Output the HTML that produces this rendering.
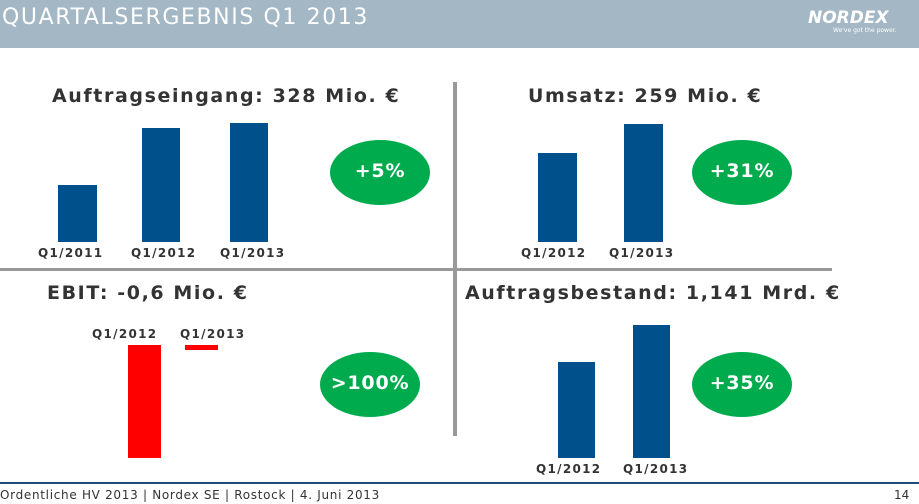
<!DOCTYPE html><html><head><meta charset="utf-8"><style>
body{margin:0;width:919px;height:504px;position:relative;overflow:hidden;background:#fff;font-family:"DejaVu Sans","Liberation Sans",sans-serif}
.a{position:absolute}
.b{position:absolute;background:#00508c}
.r{position:absolute;background:#f00}
.t{position:absolute;font-weight:bold;font-size:19px;letter-spacing:1.6px;color:#333;white-space:nowrap}
.l{position:absolute;font-weight:bold;font-size:12px;letter-spacing:1.3px;color:#333;white-space:nowrap}
.e{position:absolute;width:100px;height:65px;border-radius:50%;background:#00ab4e;color:#fff;font-weight:bold;font-size:19px;letter-spacing:0.8px;text-align:center;line-height:63px}
</style></head><body>
<div class="a" style="left:0;top:0;width:919px;height:48px;background:#a3b7c5"></div>
<div class="a" style="left:2px;top:5px;font-size:22px;letter-spacing:1.6px;color:#fff;white-space:nowrap">QUARTALSERGEBNIS Q1 2013</div>
<div class="a" style="left:808px;top:8px;font-style:italic;font-weight:bold;font-size:17px;color:#fff">NORDEX</div>
<div class="a" style="left:833px;top:27px;font-size:6px;color:#fff">We've got the power.</div>
<div class="t" style="left:52px;top:85px">Auftragseingang: 328 Mio. €</div>
<div class="t" style="left:528px;top:85px">Umsatz: 259 Mio. €</div>
<div class="t" style="left:47px;top:282px">EBIT: -0,6 Mio. €</div>
<div class="t" style="left:465px;top:282px">Auftragsbestand: 1,141 Mrd. €</div>
<div class="a" style="left:453px;top:82px;width:4px;height:354px;background:#999"></div>
<div class="a" style="left:0;top:268px;width:832px;height:3px;background:#999"></div>
<div class="b" style="left:58px;top:185px;width:39px;height:57px"></div>
<div class="b" style="left:142px;top:128px;width:38px;height:114px"></div>
<div class="b" style="left:230px;top:123px;width:38px;height:119px"></div>
<div class="l" style="left:38px;top:246px">Q1/2011</div>
<div class="l" style="left:131px;top:246px">Q1/2012</div>
<div class="l" style="left:220px;top:246px">Q1/2013</div>
<div class="b" style="left:538px;top:153px;width:39px;height:89px"></div>
<div class="b" style="left:624px;top:124px;width:39px;height:118px"></div>
<div class="l" style="left:521px;top:246px">Q1/2012</div>
<div class="l" style="left:609px;top:246px">Q1/2013</div>
<div class="l" style="left:92px;top:327px">Q1/2012</div>
<div class="l" style="left:180px;top:327px">Q1/2013</div>
<div class="r" style="left:128px;top:345px;width:33px;height:113px"></div>
<div class="r" style="left:185px;top:345px;width:33px;height:5px"></div>
<div class="b" style="left:558px;top:362px;width:37px;height:96px"></div>
<div class="b" style="left:633px;top:325px;width:37px;height:133px"></div>
<div class="l" style="left:536px;top:462px">Q1/2012</div>
<div class="l" style="left:623px;top:462px">Q1/2013</div>
<div class="e" style="left:330px;top:140px">+5%</div>
<div class="e" style="left:692px;top:140px">+31%</div>
<div class="e" style="left:320px;top:352px">&gt;100%</div>
<div class="e" style="left:692px;top:352px">+35%</div>
<div class="a" style="left:0;top:482px;width:919px;height:2px;background:#1f4e79"></div>
<div class="a" style="left:0;top:488px;font-size:12px;letter-spacing:0.7px;color:#333;white-space:nowrap">Ordentliche HV 2013 | Nordex SE | Rostock | 4. Juni 2013</div>
<div class="a" style="left:894px;top:488px;font-size:12px;color:#333">14</div>
</body></html>
